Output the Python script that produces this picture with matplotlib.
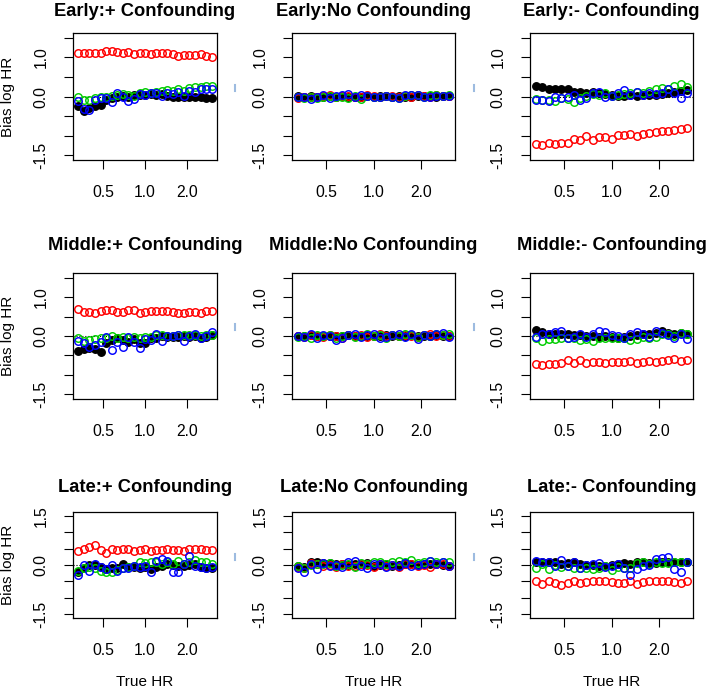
import numpy as np
import matplotlib
matplotlib.use("Agg")
import matplotlib.pyplot as plt
from matplotlib.lines import Line2D

plt.rcParams['font.family'] = ['Liberation Sans', 'DejaVu Sans']

# true hazard ratios (log spaced, 1/3 .. 3)
true_hr = [0.333, 0.365, 0.400, 0.439, 0.481, 0.527, 0.577, 0.633, 0.693, 0.760,
           0.833, 0.913, 1.000, 1.096, 1.201, 1.316, 1.442, 1.580, 1.732, 1.898,
           2.080, 2.279, 2.497, 2.737, 3.000]

timing = ["Early", "Middle", "Late"]
confounding = ["+ Confounding", "No Confounding", "- Confounding"]

# ---- bias values, one list per series and panel ----
early_pos_black = [-0.25, -0.38, -0.30, -0.25, -0.22, -0.10, -0.05, 0.00, 0.02, 0.00, 0.05, 0.03, 0.05,
                   0.07, 0.04, 0.06, 0.02, 0.00, 0.00, -0.02, 0.00, -0.02, 0.00, -0.03, -0.05]
early_pos_red = [1.10, 1.11, 1.11, 1.11, 1.12, 1.15, 1.16, 1.13, 1.11, 1.14, 1.08, 1.10, 1.10,
                 1.08, 1.11, 1.12, 1.10, 1.08, 1.04, 1.06, 1.06, 1.06, 1.08, 1.04, 1.01]
early_pos_green = [0.00, -0.08, -0.10, -0.03, 0.00, -0.02, 0.02, 0.05, 0.06, 0.04, 0.02, 0.08, 0.12,
                   0.10, 0.12, 0.13, 0.16, 0.14, 0.18, 0.15, 0.22, 0.23, 0.24, 0.26, 0.28]
early_pos_blue = [-0.12, -0.32, -0.34, -0.10, -0.05, -0.03, -0.14, 0.08, 0.00, -0.12, -0.06, 0.06, 0.03,
                  0.10, 0.08, 0.02, 0.10, 0.06, 0.12, 0.02, 0.14, 0.12, 0.20, 0.20, 0.20]

early_no_black = [0.02, 0.00, 0.01, -0.01, 0.00, 0.01, 0.00, 0.01, 0.00, -0.01, 0.00, 0.01, 0.00,
                  0.02, 0.01, 0.00, 0.01, 0.00, -0.01, 0.01, 0.02, 0.01, 0.00, 0.01, 0.02]
early_no_red = [-0.03, -0.02, 0.00, -0.02, 0.02, 0.03, -0.01, 0.01, 0.02, 0.00, -0.02, 0.03, 0.01,
                -0.02, 0.02, 0.01, 0.00, 0.02, -0.02, 0.03, 0.02, 0.00, 0.04, 0.02, 0.01]
early_no_green = [0.00, -0.04, -0.02, -0.03, 0.00, 0.02, -0.02, 0.00, -0.03, 0.02, -0.06, 0.01, 0.00,
                  -0.02, 0.01, 0.00, -0.03, 0.02, 0.04, 0.03, 0.00, 0.03, 0.05, 0.01, 0.03]
early_no_blue = [-0.01, -0.02, -0.06, -0.02, 0.03, -0.04, 0.01, 0.04, 0.06, -0.01, 0.04, 0.02, -0.02,
                 -0.01, 0.02, -0.01, -0.05, 0.04, 0.04, 0.05, -0.02, 0.00, 0.02, 0.02, 0.02]

early_neg_black = [0.28, 0.25, 0.20, 0.18, 0.20, 0.19, 0.12, 0.11, 0.10, 0.12, 0.08, 0.06, 0.04,
                   0.02, 0.02, 0.03, 0.02, 0.04, 0.03, 0.04, 0.06, 0.08, 0.12, 0.14, 0.17]
early_neg_red = [-1.22, -1.24, -1.18, -1.22, -1.18, -1.18, -1.09, -1.11, -1.00, -1.11, -1.03, -1.04, -1.09,
                 -0.98, -0.97, -0.96, -1.00, -0.95, -0.93, -0.91, -0.89, -0.87, -0.85, -0.83, -0.80]
early_neg_green = [-0.06, -0.10, -0.08, -0.12, -0.05, -0.06, -0.14, -0.05, 0.02, 0.06, 0.04, 0.08, 0.02,
                   0.04, 0.06, 0.10, 0.12, 0.08, 0.14, 0.18, 0.22, 0.18, 0.26, 0.32, 0.25]
early_neg_blue = [-0.10, -0.10, -0.12, -0.02, -0.04, -0.02, 0.04, -0.10, -0.04, 0.10, 0.12, 0.00, 0.02,
                  0.10, 0.16, 0.04, 0.12, 0.05, 0.08, 0.06, 0.10, 0.20, 0.08, -0.04, 0.10]

middle_pos_black = [-0.38, -0.33, -0.30, -0.33, -0.40, -0.18, -0.10, -0.05, -0.10, -0.15, -0.08, -0.18, -0.18,
                    -0.05, -0.06, 0.00, -0.02, -0.03, -0.02, 0.00, -0.02, 0.00, -0.05, -0.02, 0.02]
middle_pos_red = [0.70, 0.62, 0.62, 0.60, 0.65, 0.66, 0.66, 0.63, 0.62, 0.66, 0.66, 0.60, 0.63,
                  0.64, 0.64, 0.64, 0.64, 0.63, 0.58, 0.60, 0.63, 0.63, 0.59, 0.65, 0.64]
middle_pos_green = [-0.05, -0.12, -0.10, -0.08, -0.04, -0.06, 0.00, -0.04, -0.02, -0.06, -0.02, -0.04, -0.02,
                    -0.02, 0.02, 0.02, 0.00, 0.00, 0.03, 0.02, 0.02, 0.03, 0.00, 0.02, 0.02]
middle_pos_blue = [-0.12, -0.18, -0.28, -0.24, -0.15, -0.02, -0.36, -0.15, -0.28, -0.02, -0.15, -0.30, -0.08,
                   -0.10, 0.04, -0.12, 0.00, 0.00, 0.02, -0.12, 0.00, 0.06, -0.06, 0.00, 0.10]

middle_no_black = [0.01, 0.00, 0.02, 0.00, -0.01, 0.00, 0.01, 0.00, 0.02, 0.01, 0.00, -0.01, 0.00,
                   0.01, 0.02, 0.00, 0.01, 0.00, 0.02, 0.01, 0.00, 0.01, 0.02, 0.00, 0.01]
middle_no_red = [0.00, -0.03, 0.02, 0.00, -0.02, 0.03, 0.01, -0.04, 0.02, 0.00, 0.03, -0.02, 0.01,
                 0.04, -0.01, 0.02, 0.00, 0.03, 0.01, -0.02, 0.02, 0.04, 0.00, 0.02, 0.01]
middle_no_green = [-0.02, 0.00, -0.04, 0.02, 0.00, 0.03, -0.06, 0.00, 0.02, -0.03, 0.01, 0.04, 0.00,
                   0.02, -0.04, 0.03, 0.00, 0.05, 0.02, -0.02, 0.03, 0.00, 0.04, 0.02, 0.05]
middle_no_blue = [0.00, -0.02, 0.06, -0.04, 0.02, 0.00, -0.10, -0.04, 0.03, 0.06, -0.02, 0.02, 0.05,
                  -0.06, -0.03, 0.02, 0.04, -0.02, 0.06, -0.08, 0.03, 0.00, 0.05, 0.08, -0.02]

middle_neg_black = [0.15, 0.10, 0.06, 0.04, 0.05, 0.04, 0.02, 0.02, 0.00, 0.00, -0.02, 0.00, -0.02,
                    -0.04, -0.02, 0.00, 0.02, 0.05, 0.04, 0.08, 0.12, 0.08, 0.06, 0.08, 0.06]
middle_neg_red = [-0.73, -0.74, -0.73, -0.72, -0.70, -0.62, -0.70, -0.62, -0.70, -0.66, -0.68, -0.70, -0.68,
                  -0.68, -0.66, -0.64, -0.70, -0.66, -0.64, -0.66, -0.64, -0.62, -0.58, -0.63, -0.61]
middle_neg_green = [-0.05, -0.12, -0.08, -0.08, -0.06, -0.04, -0.06, -0.10, -0.08, -0.12, -0.05, -0.04, -0.06,
                    -0.06, -0.04, -0.10, -0.08, -0.02, -0.06, -0.02, 0.06, 0.04, 0.00, 0.08, 0.06]
middle_neg_blue = [-0.02, 0.04, 0.06, 0.10, 0.12, -0.04, -0.02, 0.04, -0.02, 0.06, 0.14, 0.10, 0.02,
                   0.00, -0.06, 0.06, 0.10, 0.04, -0.02, 0.12, 0.08, 0.02, -0.06, 0.04, -0.08]

late_pos_black = [-0.22, -0.10, 0.00, 0.00, -0.05, -0.12, -0.10, -0.08, 0.02, -0.06, -0.05, -0.08, -0.06,
                  -0.12, -0.06, -0.02, 0.02, 0.00, -0.02, -0.04, 0.00, 0.04, -0.06, -0.08, -0.10]
late_pos_red = [0.42, 0.48, 0.55, 0.62, 0.45, 0.36, 0.48, 0.46, 0.48, 0.48, 0.44, 0.46, 0.48,
                0.44, 0.46, 0.46, 0.48, 0.45, 0.46, 0.42, 0.48, 0.48, 0.48, 0.47, 0.45]
late_pos_green = [-0.18, -0.10, -0.05, -0.08, -0.18, -0.20, -0.22, -0.16, -0.10, -0.06, -0.04, 0.10, 0.06,
                  0.08, 0.10, 0.04, 0.10, 0.04, 0.12, 0.04, 0.10, 0.14, 0.08, 0.10, 0.02]
late_pos_blue = [-0.30, 0.00, -0.18, 0.02, -0.06, -0.12, 0.00, -0.18, -0.08, -0.10, -0.04, -0.06, -0.02,
                 -0.22, 0.12, 0.18, 0.12, -0.20, -0.20, 0.02, 0.28, -0.04, -0.06, -0.08, -0.06]

late_no_black = [-0.02, -0.05, 0.08, 0.10, 0.05, 0.06, 0.02, 0.04, 0.00, 0.02, 0.04, 0.06, -0.02,
                 0.00, 0.02, -0.02, 0.00, 0.04, 0.02, 0.00, 0.02, 0.04, 0.02, 0.00, -0.02]
late_no_red = [-0.05, -0.10, 0.05, 0.02, -0.04, 0.00, -0.06, 0.02, -0.04, -0.02, 0.02, 0.00, -0.05,
               0.04, -0.02, 0.00, -0.06, 0.04, 0.02, -0.04, 0.00, -0.06, 0.02, 0.04, -0.04]
late_no_green = [-0.04, -0.08, 0.00, 0.04, 0.02, 0.06, -0.02, 0.00, 0.04, -0.06, 0.06, 0.02, 0.08,
                 0.10, 0.02, 0.08, 0.12, 0.10, 0.14, 0.06, 0.10, 0.12, 0.08, 0.10, 0.10]
late_no_blue = [-0.08, -0.20, 0.04, -0.12, 0.06, -0.04, 0.00, -0.06, 0.10, 0.12, -0.02, -0.10, 0.02,
                0.04, -0.06, 0.00, -0.04, 0.06, -0.02, 0.00, 0.02, 0.12, 0.04, 0.08, -0.04]

late_neg_black = [0.10, 0.08, 0.10, 0.08, 0.04, 0.06, 0.08, 0.04, 0.00, 0.00, -0.04, -0.02, 0.00,
                  0.02, 0.05, 0.02, 0.08, 0.10, 0.06, 0.06, 0.10, 0.08, 0.10, 0.10, 0.10]
late_neg_red = [-0.48, -0.58, -0.48, -0.55, -0.60, -0.54, -0.50, -0.54, -0.52, -0.50, -0.48, -0.50, -0.52,
                -0.56, -0.54, -0.50, -0.58, -0.52, -0.50, -0.50, -0.48, -0.50, -0.52, -0.56, -0.50]
late_neg_green = [-0.10, 0.02, -0.12, 0.00, -0.05, -0.02, -0.10, -0.08, -0.08, -0.12, -0.08, -0.04, -0.14,
                  -0.05, -0.08, -0.10, 0.05, 0.10, 0.04, 0.08, 0.06, 0.06, 0.10, 0.08, 0.10]
late_neg_blue = [0.12, 0.10, 0.10, -0.02, 0.15, -0.02, 0.10, -0.08, 0.00, 0.04, 0.06, -0.06, -0.04,
                 0.02, -0.10, -0.30, -0.12, -0.04, 0.00, 0.18, 0.22, 0.25, -0.12, -0.20, 0.08]

panels = [
    [(early_pos_black, early_pos_red, early_pos_green, early_pos_blue),
     (early_no_black, early_no_red, early_no_green, early_no_blue),
     (early_neg_black, early_neg_red, early_neg_green, early_neg_blue)],
    [(middle_pos_black, middle_pos_red, middle_pos_green, middle_pos_blue),
     (middle_no_black, middle_no_red, middle_no_green, middle_no_blue),
     (middle_neg_black, middle_neg_red, middle_neg_green, middle_neg_blue)],
    [(late_pos_black, late_pos_red, late_pos_green, late_pos_blue),
     (late_no_black, late_no_red, late_no_green, late_no_blue),
     (late_neg_black, late_neg_red, late_neg_green, late_neg_blue)],
]

W, H = 707, 691
fig = plt.figure(figsize=(W / 100, H / 100), dpi=100)

# panel boxes in pixels
col_px = [(73, 217), (292, 455), (530, 693)]
row_px = [(33, 160), (273, 399), (512, 618)]
title_y = [11, 246, 487]

lo, hi = np.log(true_hr[0]), np.log(true_hr[-1])
pad = 0.04 * (hi - lo)
xlim = (np.exp(lo - pad), np.exp(hi + pad))

for r in range(3):
    for c in range(3):
        x0, x1 = col_px[c]
        y0, y1 = row_px[r]
        ax = fig.add_axes([x0 / W, 1 - y1 / H, (x1 - x0) / W, (y1 - y0) / H])
        black, red, green, blue = panels[r][c]

        ax.axhline(0, color='black', ls=':', lw=0.8, zorder=1)
        ax.plot(true_hr, black, 'o', color='black', ms=5.4, mec='black', zorder=2)
        ax.plot(true_hr, red, 'o', mfc='none', mec='red', ms=5.4, mew=1.05, zorder=3)
        ax.plot(true_hr, green, 'o', mfc='none', mec='#00CD00', ms=5.4, mew=1.05, zorder=4)
        ax.plot(true_hr, blue, 'o', mfc='none', mec='blue', ms=5.4, mew=1.05, zorder=5)

        ax.set_xscale('log')
        ax.set_xlim(*xlim)
        ax.set_ylim(-1.62, 1.62)
        ax.minorticks_off()
        ax.set_xticks([0.5, 1.0, 2.0])
        ax.set_xticklabels(['0.5', '1.0', '2.0'])
        yt = [-1.5, -1.0, -0.5, 0.0, 0.5, 1.0, 1.5]
        ax.set_yticks(yt)
        if r < 2:
            ylabs = ['-1.5', '', '', '0.0', '', '1.0', '']
        else:
            ylabs = ['-1.5', '', '', '0.0', '', '', '1.5']
        ax.set_yticklabels(ylabs, rotation=90, va='center')
        ax.tick_params(axis='both', direction='out', length=6.3, width=0.8,
                       labelsize=11.3, pad=11.5, colors='black')
        for s in ax.spines.values():
            s.set_linewidth(0.9)

        xc = (x0 + x1) / 2
        fig.text(xc / W, 1 - title_y[r] / H, f"{timing[r]}:{confounding[c]}",
                 ha='center', va='center', fontsize=13.2, fontweight='bold')
        if c == 0:
            fig.text(8 / W, 1 - ((y0 + y1) / 2) / H, "Bias log HR", rotation=90,
                     ha='center', va='center', fontsize=11)
        if r == 2:
            fig.text(xc / W, 1 - 682 / H, "True HR", ha='center', va='center', fontsize=11)

# faint marks to the right of the first two columns
for r, ym in enumerate([88, 327, 557]):
    for xm in [235, 474]:
        fig.add_artist(Line2D([xm / W, xm / W], [1 - (ym - 3) / H, 1 - (ym + 3) / H],
                              transform=fig.transFigure, color='#9dbbe0', lw=1.5))

fig.savefig('out.png', dpi=100)
